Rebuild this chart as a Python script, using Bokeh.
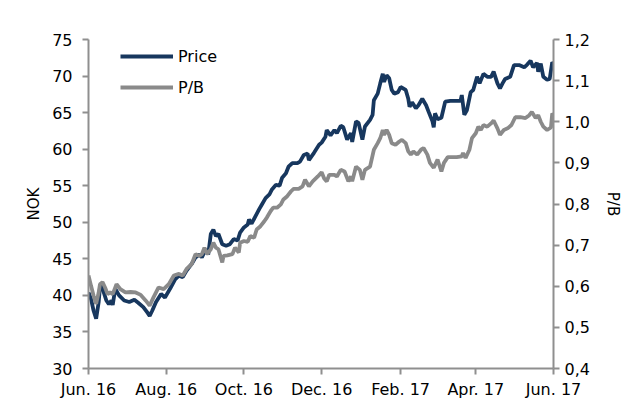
import pandas as pd
from bokeh.plotting import figure
from bokeh.models import Range1d, LinearAxis, FixedTicker, Legend, LegendItem
from bokeh.embed import file_html
from bokeh.resources import INLINE

start_date = "2016-06-01"
end_date = "2017-06-01"

price_days = [0, 2, 4, 6, 8, 9, 11, 12, 14, 16, 18, 19, 21, 24, 28, 32, 36, 39, 43, 46, 48, 50, 53, 57, 60,
              64, 68, 71, 74, 77, 81, 84, 87, 89, 92, 94, 96, 98, 100, 102, 105, 108, 111, 114, 117, 119, 122,
              125, 126, 128, 131, 134, 136, 139, 142, 144, 147, 150, 152, 155, 157, 160, 164, 166, 169, 172,
              173, 177, 181, 183, 186, 187, 190, 193, 195, 198, 200, 203, 206, 207, 210, 212, 215, 217, 221,
              223, 224, 227, 229, 231, 232, 234, 236, 238, 240, 243, 245, 249, 251, 252, 254, 257, 259, 262,
              265, 267, 270, 271, 272, 274, 277, 280, 284, 288, 292, 293, 295, 297, 300, 302, 305, 307, 310,
              313, 316, 318, 321, 323, 325, 327, 331, 334, 338, 342, 344, 347, 349, 352, 353, 355, 357, 360,
              362, 364, 365]
price_nok = [40.4, 39.5, 37.9, 36.8, 39.1, 41.1, 41.3, 40.4, 39.3, 38.8, 39.3, 38.7, 40.9, 40.0, 39.3, 39.1,
             39.4, 39.0, 38.4, 37.7, 37.2, 37.9, 39.1, 40.2, 39.7, 40.9, 42.2, 42.7, 42.5, 43.4, 44.3, 45.2,
             45.6, 45.2, 46.3, 45.6, 48.4, 49.0, 48.1, 48.4, 47.0, 46.8, 47.0, 47.7, 47.5, 48.6, 49.3, 49.7,
             50.4, 49.8, 50.8, 51.8, 52.4, 53.3, 53.8, 54.5, 55.1, 55.0, 56.1, 56.7, 57.6, 58.1, 58.1, 58.3,
             59.2, 59.4, 58.5, 59.5, 60.6, 60.9, 61.7, 62.6, 61.9, 62.6, 62.2, 63.2, 63.0, 61.3, 62.2, 61.0,
             63.8, 63.6, 61.3, 63.1, 64.0, 64.7, 66.7, 67.6, 69.0, 70.3, 69.2, 70.1, 69.7, 68.1, 67.6, 67.8,
             68.5, 68.1, 66.9, 65.8, 66.4, 65.6, 66.0, 66.9, 66.0, 65.1, 63.8, 63.0, 64.9, 64.1, 64.3, 66.5,
             66.6, 66.6, 66.6, 67.4, 64.7, 65.3, 67.8, 68.1, 69.9, 69.0, 70.3, 69.9, 69.9, 70.6, 69.0, 68.3,
             69.0, 69.6, 69.9, 71.5, 71.5, 71.2, 71.5, 72.1, 71.2, 71.8, 70.6, 71.7, 69.9, 69.5, 69.6, 71.9,
             71.7]

pb_days = [0, 2, 4, 6, 8, 9, 11, 13, 15, 17, 19, 22, 25, 29, 33, 37, 41, 45, 48, 51, 55, 59, 63, 67, 71, 74,
           77, 81, 84, 87, 89, 91, 93, 96, 98, 100, 102, 105, 106, 109, 113, 115, 118, 119, 122, 125, 127,
           130, 132, 135, 138, 140, 143, 145, 148, 151, 153, 156, 159, 161, 165, 168, 170, 173, 176, 180,
           183, 185, 187, 189, 193, 195, 198, 201, 204, 206, 207, 210, 213, 215, 217, 221, 224, 227, 229,
           231, 232, 234, 236, 238, 241, 244, 246, 249, 251, 253, 255, 258, 261, 263, 266, 268, 271, 274,
           277, 279, 282, 285, 289, 293, 294, 296, 299, 301, 304, 306, 308, 310, 313, 316, 318, 321, 323,
           326, 329, 332, 335, 339, 343, 346, 348, 351, 353, 355, 357, 360, 363, 364, 365]
pb_ratio = [0.626, 0.601, 0.577, 0.557, 0.585, 0.605, 0.610, 0.597, 0.581, 0.585, 0.581, 0.605, 0.593, 0.585,
            0.586, 0.585, 0.579, 0.565, 0.553, 0.573, 0.597, 0.593, 0.605, 0.626, 0.630, 0.626, 0.642, 0.654,
            0.678, 0.674, 0.678, 0.694, 0.678, 0.690, 0.706, 0.694, 0.690, 0.658, 0.674, 0.675, 0.678, 0.694,
            0.682, 0.706, 0.710, 0.708, 0.722, 0.718, 0.738, 0.746, 0.758, 0.767, 0.783, 0.791, 0.791, 0.799,
            0.811, 0.819, 0.831, 0.837, 0.837, 0.843, 0.859, 0.843, 0.855, 0.867, 0.877, 0.862, 0.855, 0.871,
            0.871, 0.867, 0.883, 0.879, 0.855, 0.867, 0.855, 0.891, 0.883, 0.859, 0.883, 0.891, 0.932, 0.948,
            0.960, 0.980, 0.968, 0.980, 0.968, 0.948, 0.944, 0.952, 0.956, 0.948, 0.928, 0.920, 0.928, 0.920,
            0.932, 0.936, 0.920, 0.900, 0.888, 0.908, 0.879, 0.900, 0.914, 0.914, 0.914, 0.916, 0.924, 0.912,
            0.932, 0.960, 0.972, 0.988, 0.980, 0.992, 0.988, 0.996, 1.003, 0.984, 0.968, 0.980, 0.984, 0.992,
            1.011, 1.011, 1.009, 1.016, 1.024, 1.009, 1.016, 1.000, 0.988, 0.980, 0.986, 1.020, 1.016]

x_tick_dates = ["2016-06-01", "2016-08-01", "2016-10-01", "2016-12-01", "2017-02-01", "2017-04-01", "2017-06-01"]
x_tick_labels = ["Jun. 16", "Aug. 16", "Oct. 16", "Dec. 16", "Feb. 17", "Apr. 17", "Jun. 17"]
left_ticks = [30, 35, 40, 45, 50, 55, 60, 65, 70, 75]
right_ticks = [0.4, 0.5, 0.6, 0.7, 0.8, 0.9, 1.0, 1.1, 1.2]
right_tick_labels = ["0,4", "0,5", "0,6", "0,7", "0,8", "0,9", "1,0", "1,1", "1,2"]

FONT = "DejaVu Sans"
AXIS_COLOR = "#8f8f8f"
NAVY = "#17375E"
GREY = "#8a8a8a"

t0 = pd.Timestamp(start_date)
price_x = [t0 + pd.Timedelta(days=d) for d in price_days]
pb_x = [t0 + pd.Timedelta(days=d) for d in pb_days]

p = figure(width=630, height=401, x_axis_type="datetime", output_backend="svg", toolbar_location=None,
           x_range=Range1d(pd.Timestamp(start_date), pd.Timestamp(end_date)),
           y_range=Range1d(30, 75),
           min_border_left=88, min_border_right=77, min_border_top=39, min_border_bottom=31)
p.extra_y_ranges = {"pb": Range1d(0.4, 1.2)}
p.xgrid.visible = False
p.ygrid.visible = False
p.outline_line_color = None
p.background_fill_color = "white"
p.border_fill_color = "white"

r_price = p.line(price_x, price_nok, line_color=NAVY, line_width=3.8)
r_pb = p.line(pb_x, pb_ratio, line_color=GREY, line_width=3.8, y_range_name="pb")

right_axis = LinearAxis(y_range_name="pb")
p.add_layout(right_axis, "right")

x_ticks_ms = [int(pd.Timestamp(d).value // 10**6) for d in x_tick_dates]
xa = p.xaxis[0]
xa.ticker = FixedTicker(ticks=x_ticks_ms)
xa.major_label_overrides = {t: l for t, l in zip(x_ticks_ms, x_tick_labels)}

ya = p.yaxis[0]
ya.ticker = FixedTicker(ticks=left_ticks)
ya.axis_label = "NOK"

right_axis.ticker = FixedTicker(ticks=right_ticks)
right_axis.major_label_overrides = {t: l for t, l in zip(right_ticks, right_tick_labels)}
right_axis.axis_label = "P/B"

for ax in [xa, ya, right_axis]:
    ax.axis_line_color = AXIS_COLOR
    ax.axis_line_width = 2
    ax.major_tick_line_color = AXIS_COLOR
    ax.major_tick_line_width = 2
    ax.major_tick_out = 6
    ax.major_tick_in = 0
    ax.minor_tick_line_color = None
    ax.major_label_text_font = FONT
    ax.major_label_text_font_size = "16px"
    ax.major_label_text_color = "#000000"
    ax.axis_label_text_font = FONT
    ax.axis_label_text_font_size = "15px"
    ax.axis_label_text_font_style = "normal"
    ax.axis_label_text_color = "#000000"

xa.major_label_standoff = 5
ya.major_label_standoff = 10
ya.axis_label_standoff = 6
right_axis.major_label_standoff = 5
right_axis.axis_label_standoff = 11

legend = Legend(items=[LegendItem(label="Price", renderers=[r_price]),
                       LegendItem(label="P/B", renderers=[r_pb])],
                location=(32, 271), orientation="vertical",
                border_line_color=None, background_fill_alpha=0,
                label_text_font=FONT, label_text_font_size="16px", label_text_color="#000000",
                glyph_width=53, glyph_height=20, label_height=20, spacing=11,
                padding=0, margin=0, label_standoff=5)
p.add_layout(legend)

open("out.html", "w").write(file_html(p, INLINE))
